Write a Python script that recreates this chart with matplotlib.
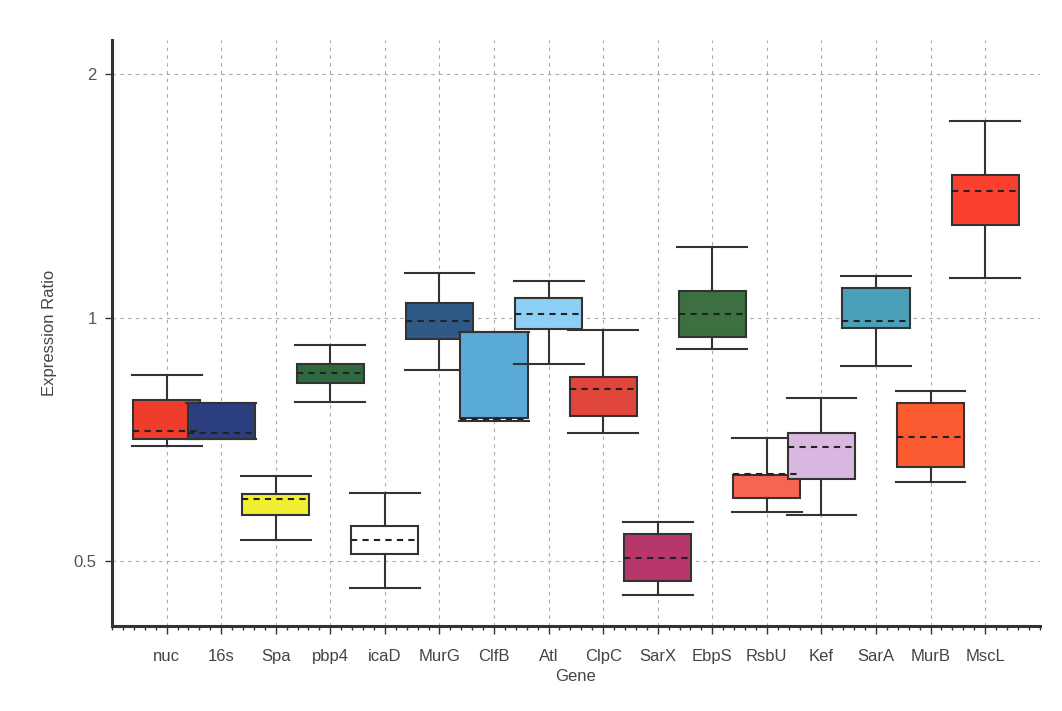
import matplotlib
matplotlib.use('Agg')
import matplotlib.pyplot as plt
from matplotlib.ticker import FixedLocator, NullFormatter, MultipleLocator

plt.rcParams['font.family'] = ['Liberation Sans', 'DejaVu Sans']

# 遺伝子ごとの箱ひげ図の統計値
genes = ['nuc', '16s', 'Spa', 'pbp4', 'icaD', 'MurG', 'ClfB', 'Atl',
         'ClpC', 'SarX', 'EbpS', 'RsbU', 'Kef', 'SarA', 'MurB', 'MscL']
whis_lo = [0.694, 0.708, 0.531, 0.787, 0.463, 0.862, 0.745, 0.877,
           0.720, 0.454, 0.915, 0.575, 0.570, 0.872, 0.626, 1.118]
q1 = [0.708, 0.708, 0.570, 0.831, 0.510, 0.942, 0.752, 0.969,
      0.756, 0.472, 0.945, 0.598, 0.632, 0.972, 0.654, 1.300]
med = [0.724, 0.720, 0.597, 0.855, 0.531, 0.989, 0.750, 1.011,
       0.817, 0.504, 1.011, 0.641, 0.692, 0.991, 0.712, 1.432]
q3 = [0.791, 0.785, 0.605, 0.877, 0.552, 1.041, 0.961, 1.056,
      0.845, 0.540, 1.080, 0.639, 0.720, 1.089, 0.785, 1.499]
whis_hi = [0.850, 0.785, 0.637, 0.926, 0.607, 1.134, 0.961, 1.111,
           0.966, 0.559, 1.221, 0.710, 0.796, 1.124, 0.812, 1.749]
colors = ['#f03c2c', '#2b3f80', '#f0f030', '#2f6a3f', '#ffffff', '#2f5a88',
          '#5aaad8', '#8ecff5', '#e0463c', '#b8376a', '#3c7040', '#f86454',
          '#d8b8e0', '#4aa0b8', '#fc5a30', '#fc4030']

fig = plt.figure(figsize=(10.62, 7.11), dpi=100)
ax = fig.add_axes([0.1055, 0.119, 0.8735, 0.8247])

ax.set_yscale('log', base=2)
ax.set_ylim(0.415, 2.204)
ax.set_xlim(-1, 16)

# グリッド（点線）
ax.set_axisbelow(True)
ax.grid(True, which='major', linestyle=(0, (3, 4)), color='#a8a8a8', linewidth=0.8)

for i in range(len(genes)):
    st = [{'whislo': whis_lo[i], 'q1': q1[i], 'med': med[i], 'q3': q3[i],
           'whishi': whis_hi[i], 'label': genes[i]}]
    ax.bxp(st, positions=[i], widths=1.23, showfliers=False, patch_artist=True,
           boxprops=dict(facecolor=colors[i], edgecolor='#333333', linewidth=1.5),
           medianprops=dict(color='#222222', linestyle=(0, (3, 2.5)), linewidth=1.5),
           whiskerprops=dict(color='#333333', linewidth=1.5),
           capprops=dict(color='#333333', linewidth=1.5), capwidths=1.28,
           manage_ticks=False)

ax.xaxis.set_major_locator(FixedLocator(range(len(genes))))
ax.set_xticklabels(genes)
ax.xaxis.set_minor_locator(MultipleLocator(0.2))
ax.yaxis.set_major_locator(FixedLocator([0.5, 1, 2]))
ax.yaxis.set_minor_locator(FixedLocator([]))
ax.yaxis.set_minor_formatter(NullFormatter())
ax.set_yticklabels(['0.5', '1', '2'])

ax.tick_params(axis='x', which='major', length=6, width=1, colors='#333333',
               labelsize=12, labelcolor='#444444', pad=10)
ax.tick_params(axis='x', which='minor', length=3, width=1, colors='#333333')
ax.tick_params(axis='y', which='major', length=5, width=1, colors='#333333',
               labelsize=12, labelcolor='#555555', pad=6)

for s in ['top', 'right']:
    ax.spines[s].set_visible(False)
for s in ['left', 'bottom']:
    ax.spines[s].set_linewidth(2.2)
    ax.spines[s].set_color('#333333')

ax.set_xlabel('Gene', fontsize=12, color='#444444', labelpad=4)
ax.set_ylabel('Expression Ratio', fontsize=12, color='#444444', labelpad=12)

plt.savefig('out.png', dpi=100)
plt.close()
